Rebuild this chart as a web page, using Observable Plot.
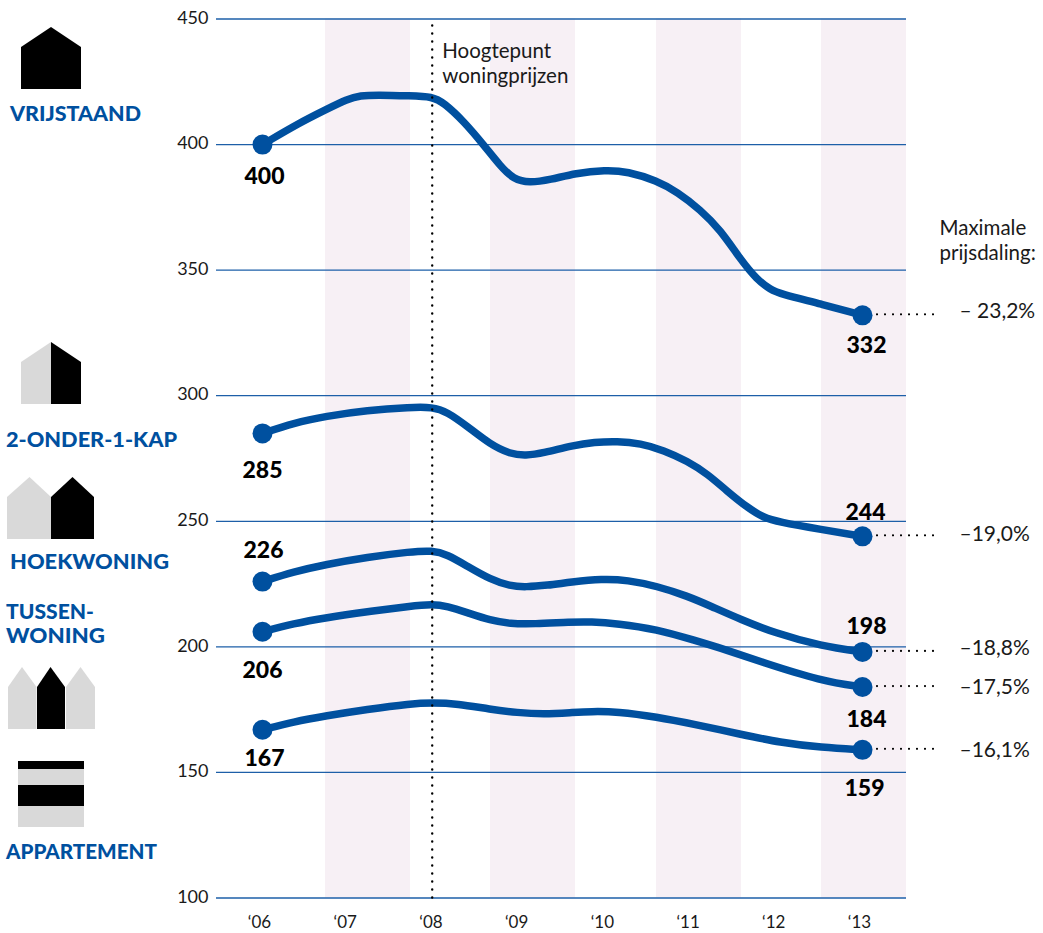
<!DOCTYPE html>
<html lang="nl">
<head>
<meta charset="utf-8">
<title>Woningprijzen per woningtype</title>
<script src="https://cdn.jsdelivr.net/npm/d3@7"></script>
<script src="https://cdn.jsdelivr.net/npm/@observablehq/plot@0.6"></script>
<style>
  html, body { margin: 0; padding: 0; background: #fff; }
  svg { display: block; }
</style>
</head>
<body>
<div id="chart"></div>
<script>
// Prijsverloop per woningtype (x 1000 euro), jaar als decimaal getal
const vrijstaandJaar = [2006, 2006.44, 2006.735, 2006.99, 2007.14, 2007.34, 2007.73, 2007.98, 2008.115, 2008.35, 2008.58, 2008.78, 2008.93, 2009.11, 2009.36, 2009.65, 2010, 2010.26, 2010.6, 2010.84, 2011.11, 2011.34, 2011.58, 2011.77, 2011.93, 2012.04, 2012.52, 2013];
const vrijstaandPrijs = [400, 408.8, 413.8, 418.1, 419.5, 419.8, 419.4, 419.1, 416.7, 409.2, 399.9, 391.2, 386.2, 384.7, 386, 388.6, 389.9, 389.3, 385.6, 381.1, 374, 366.1, 354.1, 346.2, 342.2, 340.6, 336.5, 332];

const kapJaar = [2006, 2006.365, 2006.735, 2007.22, 2007.73, 2007.98, 2008.155, 2008.39, 2008.66, 2008.89, 2009.07, 2009.28, 2009.62, 2009.87, 2010.14, 2010.41, 2010.68, 2010.96, 2011.19, 2011.42, 2011.66, 2011.85, 2012.01, 2012.52, 2013];
const kapPrijs = [285, 289.2, 291.8, 294.2, 295.4, 295.5, 293.6, 287.8, 280.5, 276.8, 276.1, 277.2, 280.2, 281.5, 281.9, 281, 278.3, 273.9, 268.9, 262, 255.4, 251.4, 249.8, 246.7, 244];

const hoekJaar = [2006, 2006.365, 2006.735, 2007.22, 2007.73, 2007.98, 2008.155, 2008.39, 2008.66, 2008.89, 2009.07, 2009.32, 2009.6, 2009.96, 2010.26, 2010.6, 2010.96, 2011.23, 2011.58, 2011.97, 2012.52, 2013];
const hoekPrijs = [226, 229.9, 232.8, 235.7, 237.9, 238.4, 236.8, 232.1, 226.8, 224.2, 223.8, 224.5, 225.8, 227.1, 226.6, 224.2, 220.2, 216.2, 210.9, 205.6, 200.3, 198];

const tussenJaar = [2006, 2006.365, 2006.735, 2007.22, 2007.73, 2007.98, 2008.155, 2008.39, 2008.66, 2008.89, 2009.16, 2009.6, 2009.83, 2010.14, 2010.6, 2011.03, 2011.42, 2011.81, 2012.52, 2013];
const tussenPrijs = [206, 209.3, 211.6, 214, 216.2, 217, 216.2, 213.6, 210.5, 209.2, 209.1, 209.9, 210, 209.3, 207, 202.7, 198.7, 194.1, 186.4, 184];

const appartementJaar = [2006, 2006.365, 2006.735, 2007.22, 2007.73, 2007.98, 2008.27, 2008.66, 2008.97, 2009.28, 2009.6, 2009.83, 2010.14, 2010.6, 2011.03, 2011.58, 2012.04, 2012.52, 2013];
const appartementPrijs = [167, 170.2, 172.5, 175.1, 177.4, 177.8, 177.4, 175.1, 173.8, 173.2, 173.8, 174.3, 174.2, 172.1, 169.2, 165.2, 161.9, 159.9, 159];

// Eindpunten en maximale prijsdaling
const startWaarden = [400, 285, 226, 206, 167];
const eindWaarden = [332, 244, 198, 184, 159];
const dalingen = ["– 23,2%", "–19,0%", "–18,8%", "–17,5%", "–16,1%"];

// As-indeling en gearceerde jaarstroken
const yTicks = [100, 150, 200, 250, 300, 350, 400, 450];
const xTicks = [2006, 2007, 2008, 2009, 2010, 2011, 2012, 2013];
const xLabels = ["‘06", "‘07", "‘08", "‘09", "‘10", "‘11", "‘12", "‘13"];
const strookVan = [2006.735, 2008.66, 2010.597, 2012.522];
const strookTot = [2007.727, 2009.652, 2011.589, 2013.513];
const piekJaar = 2007.98;

const BLUE = "#00509f";
const FONT = "'Lato', 'Open Sans', sans-serif";

const reeksen = [
  [vrijstaandJaar, vrijstaandPrijs],
  [kapJaar, kapPrijs],
  [hoekJaar, hoekPrijs],
  [tussenJaar, tussenPrijs],
  [appartementJaar, appartementPrijs]
];
const lijnen = reeksen.flatMap(([jaar, prijs], s) =>
  jaar.map((j, i) => ({reeks: s, jaar: j, prijs: prijs[i]})));
const stroken = strookVan.map((van, i) => ({van, tot: strookTot[i]}));

// Waardelabels: per label een eigen verschuiving t.o.v. de stip
const startLabels = startWaarden.map((w, i) => ({w, dx: [2, 0, 1, 0, 2][i], dy: [32, 37, -31, 39, 29][i]}));
const eindLabels = eindWaarden.map((w, i) => ({w, dx: [4, 3, 4, 4, 2][i], dy: [30, -24, -25, 33, 39][i]}));
const dalingLabels = eindWaarden.map((w, i) => ({w, tekst: dalingen[i], dy: [-4, -2, -4, 0, 0][i]}));

const bold = {fontFamily: FONT, fontWeight: 900, fontSize: 23, fill: "#000"};
const light = {fontFamily: FONT, fontWeight: 400, fontSize: 20.5, fill: "#1a1a1a"};

const waardeLabel = (jaar) => (l) => Plot.text([l], {
  x: () => jaar, y: "w", text: (d) => String(d.w), dx: l.dx, dy: l.dy, ...bold
});
const dalingLabel = (l) => Plot.text([l], {
  x: () => 2013.513, y: "w", text: "tekst", textAnchor: "start", dx: 53, dy: l.dy, ...light, fontSize: 21
});

// Huisjes en typenamen in de linkermarge
const GREY = "#d9d9d9";
const iconen = [
  {fill: "#000", points: "21,47 51,27 81,47 81,89 21,89"},
  {fill: GREY, points: "21,362 51,342 51,404 21,404"},
  {fill: "#000", points: "51,342 81,362 81,404 51,404"},
  {fill: GREY, points: "7,497 29.5,477 51,497 51,539 7,539"},
  {fill: "#000", points: "51,497 72.5,477 94,497 94,539 51,539"},
  {fill: GREY, points: "8,687 22,667 36.5,687 36.5,729 8,729"},
  {fill: "#000", points: "37,687 50.5,667 65,687 65,729 37,729"},
  {fill: GREY, points: "66,687 80.5,667 95,687 95,729 66,729"},
  {fill: "#000", points: "18,761 84,761 84,769 18,769"},
  {fill: GREY, points: "18,769 84,769 84,785 18,785"},
  {fill: "#000", points: "18,785 84,785 84,806 18,806"},
  {fill: GREY, points: "18,806 84,806 84,827 18,827"}
];
const typeNamen = [
  {tekst: "VRIJSTAAND", x: 10, y: 120.5, w: 131},
  {tekst: "2-ONDER-1-KAP", x: 6, y: 447, w: 171},
  {tekst: "HOEKWONING", x: 10, y: 569, w: 159},
  {tekst: "TUSSEN-", x: 6, y: 619, w: 88},
  {tekst: "WONING", x: 6, y: 643, w: 99},
  {tekst: "APPARTEMENT", x: 6, y: 858.5, w: 151}
];
const legenda = () => {
  const g = d3.create("svg:g");
  g.selectAll("polygon").data(iconen).join("polygon")
    .attr("points", (d) => d.points).attr("fill", (d) => d.fill);
  g.selectAll("text").data(typeNamen).join("text")
    .attr("x", (d) => d.x).attr("y", (d) => d.y)
    .attr("text-anchor", "start")
    .attr("textLength", (d) => d.w).attr("lengthAdjust", "spacingAndGlyphs")
    .attr("font-family", FONT).attr("font-weight", 900).attr("font-size", 21)
    .attr("fill", BLUE).text((d) => d.tekst);
  return g.node();
};

const chart = Plot.plot({
  width: 1043,
  height: 933,
  marginLeft: 216,
  marginRight: 137,
  marginTop: 18.5,
  marginBottom: 35.5,
  x: {domain: [2005.4633, 2013.5133], axis: null},
  y: {domain: [100, 450], axis: null},
  marks: [
    Plot.rect(stroken, {x1: "van", x2: "tot", y1: () => 100, y2: () => 450, fill: "#f7f0f5"}),
    Plot.ruleY(yTicks, {stroke: "#1d5fa8", strokeWidth: 1.3}),
    Plot.axisY({ticks: yTicks, tickSize: 0, tickPadding: 8, label: null, dy: -1, fontFamily: FONT, fontWeight: 400, fontSize: 18, fill: "#1a1a1a"}),
    Plot.text(xTicks, {x: (d) => d, y: () => 100, text: (d, i) => xLabels[i], dx: -3, dy: 25, ...light, fontSize: 17}),
    Plot.line(lijnen, {x: "jaar", y: "prijs", z: "reeks", stroke: BLUE, strokeWidth: 7.5, curve: "basis", strokeLinejoin: "round"}),
    Plot.dot(startWaarden, {x: () => 2006, y: (d) => d, r: 10, fill: BLUE}),
    Plot.dot(eindWaarden, {x: () => 2013, y: (d) => d, r: 10, fill: BLUE}),
    Plot.ruleX([piekJaar], {y1: 100, y2: 450, stroke: "#000", strokeWidth: 2.4, strokeLinecap: "round", strokeDasharray: "0 8"}),
    Plot.ruleY(eindWaarden, {x1: 2013.175, x2: 2013.84, stroke: "#000", strokeWidth: 2.2, strokeLinecap: "round", strokeDasharray: "0 8", dy: -1}),
    ...startLabels.map(waardeLabel(2006)),
    ...eindLabels.map(waardeLabel(2013)),
    ...dalingLabels.map(dalingLabel),
    Plot.text(["Hoogtepunt\nwoningprijzen"], {x: () => piekJaar, y: () => 450, textAnchor: "start", lineAnchor: "top", lineHeight: 1.22, dx: 10, dy: 21.5, ...light}),
    Plot.text(["Maximale\nprijsdaling:"], {x: () => 2013.513, y: () => 350, textAnchor: "start", lineAnchor: "bottom", lineHeight: 1.22, dx: 33, dy: -10, ...light}),
    legenda
  ]
});
document.getElementById("chart").append(chart);
</script>
</body>
</html>
